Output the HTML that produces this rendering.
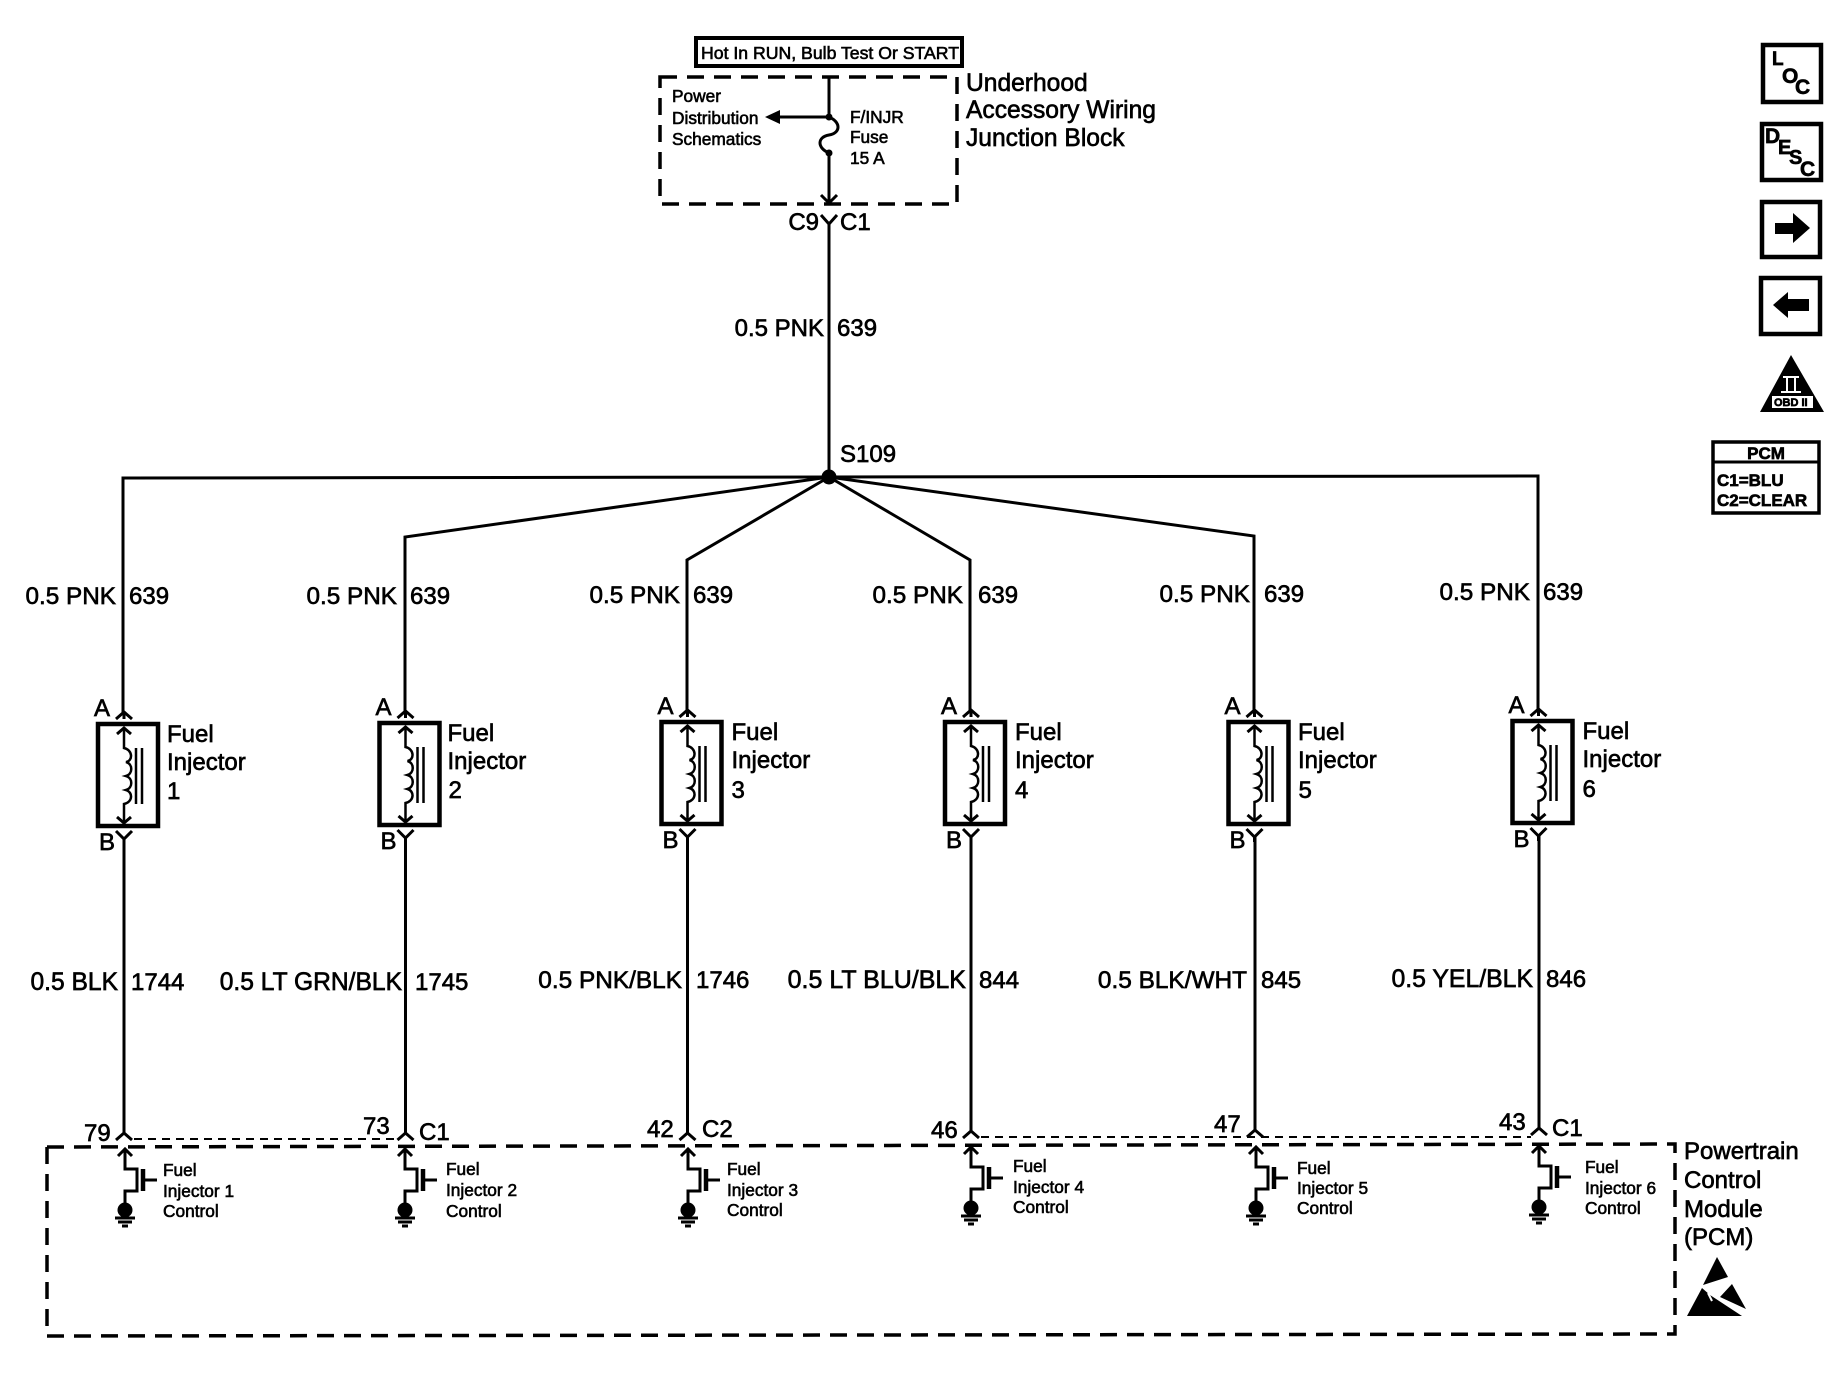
<!DOCTYPE html>
<html>
<head>
<meta charset="utf-8">
<style>
html,body{margin:0;padding:0;background:#fff}
svg{display:block}
text{font-family:"Liberation Sans",sans-serif;fill:#000;stroke:#000;stroke-width:.65}
.l{font-size:24px}
.m{font-size:24.6px}
.s{font-size:17.3px;stroke-width:.6}
.w{fill:none;stroke:#000;stroke-width:3}
.b{fill:none;stroke:#000;stroke-width:4.5}
.t{fill:none;stroke:#000;stroke-width:2.5}
.d{fill:none;stroke:#000;stroke-width:3.5;stroke-dasharray:17 10}
.f{fill:#000;stroke:none}
</style>
</head>
<body>
<svg width="1838" height="1392" viewBox="0 0 1838 1392" xmlns="http://www.w3.org/2000/svg">
<defs>
<g id="inj">
<rect class="b" x="-26" y="0" width="60" height="102"/>
<path class="w" d="M0 -12L0 -5M-8 -5L0 -12L8 -5"/>
<path class="t" d="M0 5V24C9 26 9 37 2 38C9 40 9 50 2 52C9 54 9 64 2 66C9 68 9 78 0 80V99"/>
<path class="w" d="M-7 10L0 4L7 10M-7 93L0 99L7 93"/>
<path class="t" d="M12 24V80M18 24V80"/>
<path class="w" d="M-8 107L0 115L8 107M0 115V120"/>
</g>
<g id="drv">
<path class="w" d="M-7 7L0 0L7 7M0 0V20H12V42H0V60"/>
<path class="b" d="M18 20V42"/>
<path class="w" d="M18 31H32"/>
<circle class="f" cx="0" cy="61" r="7.5"/>
<path class="w" d="M-10 69H10M-7 73H7M-3 77H3"/>
</g>
<path id="fork" d="M-8 7L0 0L8 7"/>
</defs>

<!-- Hot box -->
<rect x="696" y="38" width="266" height="28" fill="none" stroke="#000" stroke-width="4"/>
<text class="s" x="701" y="59" textLength="258" lengthAdjust="spacingAndGlyphs">Hot In RUN, Bulb Test Or START</text>

<!-- Underhood box -->
<rect class="d" x="660" y="77" width="297" height="127"/>
<text class="s" x="672" y="102">Power</text>
<text class="s" x="672" y="124">Distribution</text>
<text class="s" x="672" y="145">Schematics</text>
<text class="s" x="850" y="123">F/INJR</text>
<text class="s" x="850" y="143">Fuse</text>
<text class="s" x="850" y="164">15 A</text>
<text class="m" x="966" y="91">Underhood</text>
<text class="m" x="966" y="118">Accessory Wiring</text>
<text class="m" x="966" y="146">Junction Block</text>

<path class="w" d="M829 76V117M829 117C841 122 841 133 829 135C817 137 817 148 829 153V202"/>
<circle class="f" cx="829" cy="117" r="3.5"/>
<circle class="f" cx="829" cy="153" r="3.5"/>
<path class="w" d="M829 117H775"/>
<path class="f" d="M765 117L780 110V124Z"/>
<path class="w" d="M821 195L829 203L837 195"/>
<path class="w" d="M821 215L829 224L837 215M829 224V477"/>
<text class="l" x="819" y="230" text-anchor="end">C9</text>
<text class="l" x="840" y="230">C1</text>
<text class="l" x="824" y="336" text-anchor="end">0.5 PNK</text>
<text class="l" x="837" y="336">639</text>

<!-- S109 splice -->
<circle class="f" cx="829" cy="477" r="7.5"/>
<text class="l" x="840" y="462">S109</text>
<path class="w" d="M829 477L123 478V713"/>
<path class="w" d="M829 477L405 537V712"/>
<path class="w" d="M829 477L687 560V711"/>
<path class="w" d="M829 477L970 560V711"/>
<path class="w" d="M829 477L1254 536V711"/>
<path class="w" d="M829 477L1538 476V710"/>

<!-- Upper wire labels -->
<text class="l" x="116" y="604" text-anchor="end" style="font-size:24.3px">0.5 PNK</text><text class="l" x="129" y="604">639</text>
<text class="l" x="397" y="604" text-anchor="end" style="font-size:24.3px">0.5 PNK</text><text class="l" x="410" y="604">639</text>
<text class="l" x="680" y="603" text-anchor="end" style="font-size:24.3px">0.5 PNK</text><text class="l" x="693" y="603">639</text>
<text class="l" x="963" y="603" text-anchor="end" style="font-size:24.3px">0.5 PNK</text><text class="l" x="978" y="603">639</text>
<text class="l" x="1250" y="602" text-anchor="end" style="font-size:24.3px">0.5 PNK</text><text class="l" x="1264" y="602">639</text>
<text class="l" x="1530" y="600" text-anchor="end" style="font-size:24.3px">0.5 PNK</text><text class="l" x="1543" y="600">639</text>

<!-- Injectors -->
<g transform="translate(124 724)"><use href="#inj"/>
<text class="l" x="-14" y="-8" text-anchor="end">A</text><text class="l" x="-9" y="126" text-anchor="end">B</text>
<text class="l" x="43" y="18">Fuel</text><text class="l" x="43" y="46">Injector</text><text class="l" x="43" y="75">1</text></g>
<g transform="translate(405.500 723)"><use href="#inj"/>
<text class="l" x="-14" y="-8" text-anchor="end">A</text><text class="l" x="-9" y="126" text-anchor="end">B</text>
<text class="l" x="42" y="18">Fuel</text><text class="l" x="42" y="46">Injector</text><text class="l" x="43" y="75">2</text></g>
<g transform="translate(687.500 722)"><use href="#inj"/>
<text class="l" x="-14" y="-8" text-anchor="end">A</text><text class="l" x="-9" y="126" text-anchor="end">B</text>
<text class="l" x="44" y="18">Fuel</text><text class="l" x="44" y="46">Injector</text><text class="l" x="44" y="76">3</text></g>
<g transform="translate(971 722)"><use href="#inj"/>
<text class="l" x="-14" y="-8" text-anchor="end">A</text><text class="l" x="-9" y="126" text-anchor="end">B</text>
<text class="l" x="44" y="18">Fuel</text><text class="l" x="44" y="46">Injector</text><text class="l" x="44" y="76">4</text></g>
<g transform="translate(1254.500 722)"><use href="#inj"/>
<text class="l" x="-14" y="-8" text-anchor="end">A</text><text class="l" x="-9" y="126" text-anchor="end">B</text>
<text class="l" x="43.500" y="18">Fuel</text><text class="l" x="43.500" y="46">Injector</text><text class="l" x="44" y="76">5</text></g>
<g transform="translate(1538.500 721)"><use href="#inj"/>
<text class="l" x="-14" y="-8" text-anchor="end">A</text><text class="l" x="-9" y="126" text-anchor="end">B</text>
<text class="l" x="44" y="18">Fuel</text><text class="l" x="44" y="46">Injector</text><text class="l" x="44" y="76">6</text></g>

<!-- Lower wires -->
<path class="w" d="M124 838V1133M405.500 837V1133M687.500 836V1133M971 836V1131M1255 836V1130M1539 835V1128"/>
<use href="#fork" class="w" x="124" y="1133"/>
<use href="#fork" class="w" x="405.500" y="1133"/>
<use href="#fork" class="w" x="687.500" y="1133"/>
<use href="#fork" class="w" x="971" y="1131"/>
<use href="#fork" class="w" x="1255" y="1130"/>
<use href="#fork" class="w" x="1539" y="1128"/>

<text class="l" x="118" y="990" text-anchor="end" style="font-size:24.6px">0.5 BLK</text><text class="l" x="131" y="990">1744</text>
<text class="l" x="402" y="990" text-anchor="end" style="font-size:24.6px">0.5 LT GRN/BLK</text><text class="l" x="415" y="990">1745</text>
<text class="l" x="682" y="988" text-anchor="end" style="font-size:24.4px">0.5 PNK/BLK</text><text class="l" x="696" y="988">1746</text>
<text class="l" x="966" y="988" text-anchor="end" style="font-size:25px">0.5 LT BLU/BLK</text><text class="l" x="979" y="988">844</text>
<text class="l" x="1247" y="988" text-anchor="end" style="font-size:24.4px">0.5 BLK/WHT</text><text class="l" x="1261" y="988">845</text>
<text class="l" x="1533" y="987" text-anchor="end" style="font-size:24.8px">0.5 YEL/BLK</text><text class="l" x="1546" y="987">846</text>

<!-- Pin labels -->
<text class="l" x="84" y="1141">79</text>
<text class="l" x="363" y="1134">73</text>
<text class="l" x="419" y="1140">C1</text>
<text class="l" x="647" y="1137">42</text>
<text class="l" x="702" y="1137">C2</text>
<text class="l" x="931" y="1138">46</text>
<text class="l" x="1214" y="1132">47</text>
<text class="l" x="1499" y="1130">43</text>
<text class="l" x="1552" y="1136">C1</text>

<!-- Thin dashed connector shells -->
<path fill="none" stroke="#000" stroke-width="2" stroke-dasharray="8 6" d="M134 1139H396M981 1137H1531"/>

<!-- PCM box -->
<path class="d" d="M47 1147L1675 1144V1334L47 1336Z"/>

<g transform="translate(125 1149)"><use href="#drv"/></g>
<text class="s" x="163" y="1176">Fuel</text><text class="s" x="163" y="1197">Injector 1</text><text class="s" x="163" y="1217">Control</text>
<g transform="translate(405 1149)"><use href="#drv"/></g>
<text class="s" x="446" y="1175">Fuel</text><text class="s" x="446" y="1196">Injector 2</text><text class="s" x="446" y="1217">Control</text>
<g transform="translate(688 1149)"><use href="#drv"/></g>
<text class="s" x="727" y="1175">Fuel</text><text class="s" x="727" y="1196">Injector 3</text><text class="s" x="727" y="1216">Control</text>
<g transform="translate(971 1147)"><use href="#drv"/></g>
<text class="s" x="1013" y="1172">Fuel</text><text class="s" x="1013" y="1193">Injector 4</text><text class="s" x="1013" y="1213">Control</text>
<g transform="translate(1256 1147)"><use href="#drv"/></g>
<text class="s" x="1297" y="1174">Fuel</text><text class="s" x="1297" y="1194">Injector 5</text><text class="s" x="1297" y="1214">Control</text>
<g transform="translate(1539 1146)"><use href="#drv"/></g>
<text class="s" x="1585" y="1173">Fuel</text><text class="s" x="1585" y="1194">Injector 6</text><text class="s" x="1585" y="1214">Control</text>

<text class="l" x="1684" y="1159">Powertrain</text>
<text class="l" x="1684" y="1188">Control</text>
<text class="l" x="1684" y="1217">Module</text>
<text class="l" x="1684" y="1245">(PCM)</text>

<!-- ESD icon -->
<path class="f" d="M1717 1257L1728 1277L1703 1285Z"/>
<path class="f" d="M1702 1288L1687 1316H1742L1710 1295Z"/>
<path class="f" d="M1732 1284L1746 1309L1720 1297Z"/>
<path fill="none" stroke="#fff" stroke-width="2" d="M1708 1293L1712 1301"/>

<!-- Side icons -->
<rect class="b" x="1763" y="45" width="58" height="57"/>
<text x="1772" y="65" font-size="19" font-weight="bold" stroke-width="0">L</text>
<text x="1782" y="83" font-size="21" font-weight="bold" stroke-width="0">O</text>
<text x="1795" y="94" font-size="21" font-weight="bold" stroke-width="0">C</text>

<rect class="b" x="1762" y="124" width="59" height="56"/>
<text x="1765" y="143" font-size="21" font-weight="bold" stroke-width="0">D</text>
<text x="1778" y="154" font-size="20" font-weight="bold" stroke-width="0">E</text>
<text x="1789" y="164" font-size="20" font-weight="bold" stroke-width="0">S</text>
<text x="1800" y="176" font-size="21" font-weight="bold" stroke-width="0">C</text>

<rect class="b" x="1762" y="202" width="58" height="55"/>
<path class="f" d="M1775 223H1793V213L1810 228L1793 243V234H1775Z"/>

<rect class="b" x="1761" y="278" width="59" height="56"/>
<path class="f" d="M1773 305L1788 292V299H1809V311H1788V318Z"/>

<path class="f" d="M1791 355L1824 412H1760Z"/>
<rect x="1772" y="396" width="41" height="12" fill="#fff"/>
<text x="1774" y="406" font-size="11" font-weight="bold" stroke-width="0">OBD II</text>
<path fill="none" stroke="#fff" stroke-width="2" d="M1783 377H1799M1787 377V391M1795 377V391M1781 392H1801"/>

<rect fill="none" stroke="#000" stroke-width="3.5" x="1713" y="442" width="106" height="71"/>
<path fill="none" stroke="#000" stroke-width="3" d="M1713 462H1819"/>
<text x="1766" y="459" font-size="17" font-weight="bold" text-anchor="middle" stroke-width="0">PCM</text>
<text x="1717" y="486" font-size="17" font-weight="bold" stroke-width="0">C1=BLU</text>
<text x="1717" y="506" font-size="17" font-weight="bold" stroke-width="0">C2=CLEAR</text>
</svg>
</body>
</html>
